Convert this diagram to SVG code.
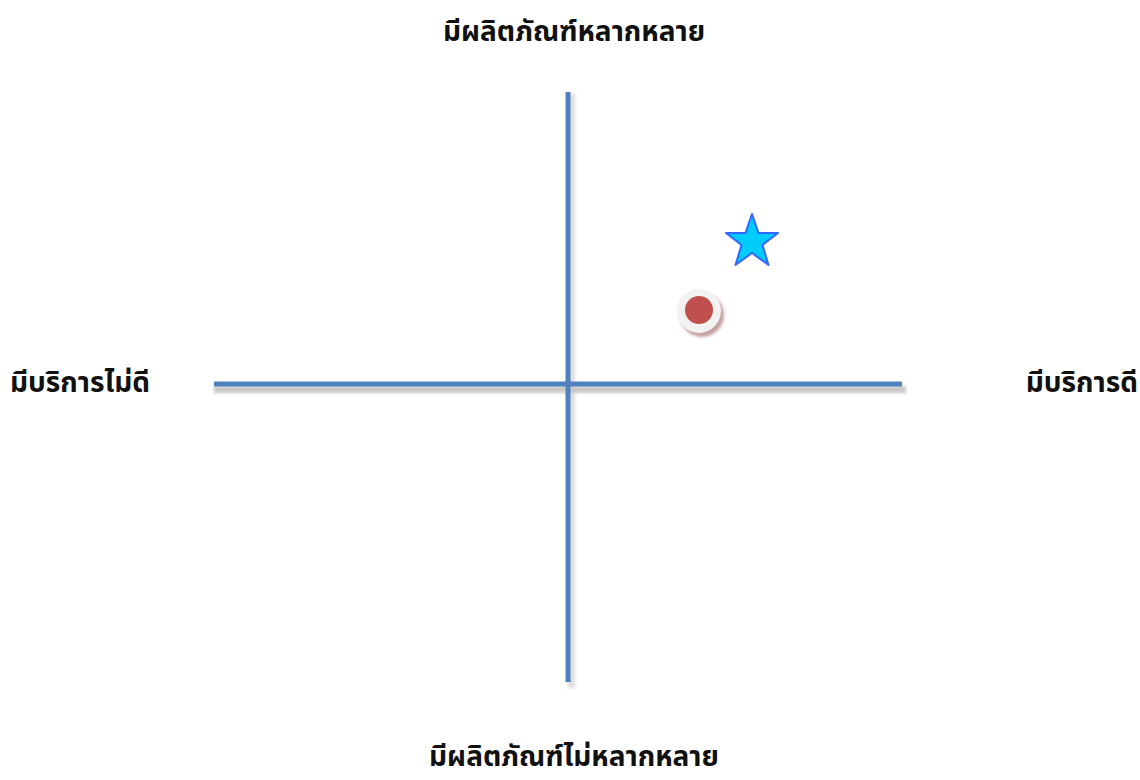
<svg xmlns="http://www.w3.org/2000/svg" width="1140" height="780" viewBox="0 0 1140 780">
<style>
.lbl{font-family:"Noto Sans Thai","Noto Sans","Liberation Sans","DejaVu Sans",sans-serif;font-weight:bold;font-size:28px;fill:#111}
.axis{fill:#4f81bd}
.shadow{fill:#c8c8c8}
</style>
<defs>
<filter id="blur" x="-20%" y="-20%" width="140%" height="140%"><feGaussianBlur stdDeviation="1.5"/></filter>
<filter id="blurl" filterUnits="userSpaceOnUse" x="0" y="0" width="1140" height="780"><feGaussianBlur stdDeviation="1.5"/></filter>
</defs>
<rect width="1140" height="780" fill="#fff"/>
<g id="axes">
<rect class="shadow" x="214" y="386" width="692" height="7" filter="url(#blurl)"/>
<rect class="shadow" x="568" y="94" width="7" height="594" filter="url(#blurl)" opacity="0.6"/>
<rect class="axis" x="214" y="381.5" width="688" height="5"/>
<rect class="axis" x="565.5" y="92" width="5" height="590"/>
</g>
<g id="label-top"><text class="lbl" x="574" y="41" text-anchor="middle">มีผลิตภัณฑ์หลากหลาย</text></g>
<g id="label-bottom"><text class="lbl" x="574" y="766" text-anchor="middle">มีผลิตภัณฑ์ไม่หลากหลาย</text></g>
<g id="label-left"><text class="lbl" x="10" y="392">มีบริการไม่ดี</text></g>
<g id="label-right"><text class="lbl" x="1138" y="392" text-anchor="end">มีบริการดี</text></g>
<g id="circle">
<circle cx="702" cy="315" r="22" fill="#a06060" opacity="0.6" filter="url(#blur)"/>
<circle cx="699" cy="311" r="22" fill="#f2f2f2"/>
<circle cx="699" cy="310" r="14" fill="#c0504d"/>
</g>
<g id="star">
<polygon points="752,214 758.5,233 778,233 762.5,245 768.5,265 752,253 735.5,265 741.5,245 726,233 745.5,233" fill="#00ccff" stroke="#3366ff" stroke-width="2" stroke-linejoin="round"/>
</g>
</svg>
